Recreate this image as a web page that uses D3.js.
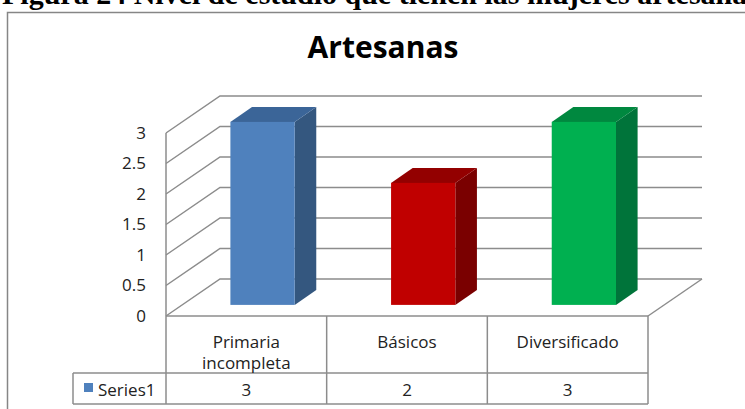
<!DOCTYPE html>
<html><head><meta charset="utf-8">
<script src="https://cdn.jsdelivr.net/npm/d3@7"></script>
<style>html,body{margin:0;padding:0;background:#fff;overflow:hidden}</style>
</head><body>
<svg id="c" width="745" height="409"></svg>
<script>
const categories = ["Primaria\nincompleta", "Básicos", "Diversificado"];
const seriesName = "Series1";
const values = [3, 2, 3];
const yTicks = [0, 0.5, 1, 1.5, 2, 2.5, 3];
const tickLabels = ["0", "0.5", "1", "1.5", "2", "2.5", "3"];
const frontColors = ["#4F81BD", "#C00000", "#00B050"];
const sideColors = ["#34577F", "#7A0000", "#00743A"];
const topColors = ["#3B6598", "#930000", "#00883F"];
const chartTitle = "Artesanas";
const figCaption = "Figura 24 Nivel de estudio que tienen las mujeres artesanas";

const svg = d3.select("#c");
const font = "'Open Sans', sans-serif";
const grid = "#8c8c8c";

// caption (clipped at top, as in the reference)
svg.append("text").attr("x", 2).attr("y", 4)
  .attr("font-family", "'Liberation Serif', serif").attr("font-weight", "bold")
  .attr("font-size", 30).attr("fill", "#000").text(figCaption);

// chart border
svg.append("rect").attr("x", 7.5).attr("y", 12.5).attr("width", 760).attr("height", 420)
  .attr("fill", "#fff").attr("stroke", "#868686").attr("stroke-width", 1.5);

svg.append("text").attr("x", 383).attr("y", 58).attr("text-anchor", "middle")
  .attr("font-family", font).attr("font-weight", "bold").attr("font-size", 30)
  .attr("fill", "#000").text(chartTitle);

const x0 = 166, x1 = 648, DX = 54, DY = -37;
const y = d3.scaleLinear().domain([0, 3]).range([316, 133]);
const x = d3.scaleBand().domain(categories).range([x0, x1]);

// side-wall and back-wall gridlines
const g = svg.append("g");
yTicks.forEach(t => {
  const yf = y(t);
  g.append("polyline")
    .attr("points", `${x0},${yf} ${x0 + DX},${yf + DY} ${x1 + DX},${yf + DY}`)
    .attr("fill", "none").attr("stroke", grid).attr("stroke-width", 1.5);
});
g.append("line").attr("x1", x0).attr("x2", x0).attr("y1", y(3)).attr("y2", y(0))
  .attr("stroke", grid).attr("stroke-width", 1.5);
g.append("line").attr("x1", x1).attr("y1", y(0)).attr("x2", x1 + DX).attr("y2", y(0) + DY)
  .attr("stroke", grid).attr("stroke-width", 1.5);

// y labels
yTicks.forEach((t, i) => {
  svg.append("text").attr("x", 146).attr("y", y(t)).attr("dy", "0.35em")
    .attr("text-anchor", "end").attr("font-family", font).attr("font-size", 17)
    .attr("fill", "#222").text(tickLabels[i]);
});

// bars
const f1 = 0.30, f2 = 0.70, bw = 0.40;
values.forEach((v, i) => {
  const c = categories[i];
  const cx = x(c) + x.bandwidth() / 2;
  const xl = cx - x.bandwidth() * bw / 2 + DX * f1;
  const xr = xl + x.bandwidth() * bw;
  const yb = y(0) + DY * f1;
  const yt = y(v) + DY * f1;
  const ddx = DX * (f2 - f1), ddy = DY * (f2 - f1);
  svg.append("polygon")
    .attr("points", `${xr},${yt} ${xr + ddx},${yt + ddy} ${xr + ddx},${yb + ddy} ${xr},${yb}`)
    .attr("fill", sideColors[i]);
  svg.append("polygon")
    .attr("points", `${xl},${yt} ${xl + ddx},${yt + ddy} ${xr + ddx},${yt + ddy} ${xr},${yt}`)
    .attr("fill", topColors[i]);
  svg.append("rect").attr("x", xl).attr("y", yt).attr("width", xr - xl).attr("height", yb - yt)
    .attr("fill", frontColors[i]);
});

// data table
const tTop = 316, tMid = 373, tBot = 404, tLeft = 73;
const tl = svg.append("g").attr("stroke", grid).attr("stroke-width", 1.5);
tl.append("line").attr("x1", x0).attr("x2", x1).attr("y1", tTop).attr("y2", tTop);
tl.append("line").attr("x1", tLeft).attr("x2", x1).attr("y1", tMid).attr("y2", tMid);
tl.append("line").attr("x1", tLeft).attr("x2", x1).attr("y1", tBot).attr("y2", tBot);
tl.append("line").attr("x1", tLeft).attr("x2", tLeft).attr("y1", tMid).attr("y2", tBot);
[x0, ...categories.map(c => x(c) + x.bandwidth())].forEach(xx => {
  tl.append("line").attr("x1", xx).attr("x2", xx).attr("y1", tTop).attr("y2", tBot);
});

categories.forEach((c, i) => {
  const cx = x(c) + x.bandwidth() / 2;
  c.split("\n").forEach((ln, j) => {
    svg.append("text").attr("x", cx).attr("y", 348 + j * 21).attr("text-anchor", "middle")
      .attr("font-family", font).attr("font-size", 17).attr("fill", "#222").text(ln);
  });
  svg.append("text").attr("x", cx).attr("y", 396).attr("text-anchor", "middle")
    .attr("font-family", font).attr("font-size", 17).attr("fill", "#222").text(values[i]);
});
svg.append("rect").attr("x", 84).attr("y", 383).attr("width", 9).attr("height", 9).attr("fill", frontColors[0]);
svg.append("text").attr("x", 98).attr("y", 396).attr("font-family", font).attr("font-size", 17)
  .attr("fill", "#222").text(seriesName);
</script>
</body></html>
